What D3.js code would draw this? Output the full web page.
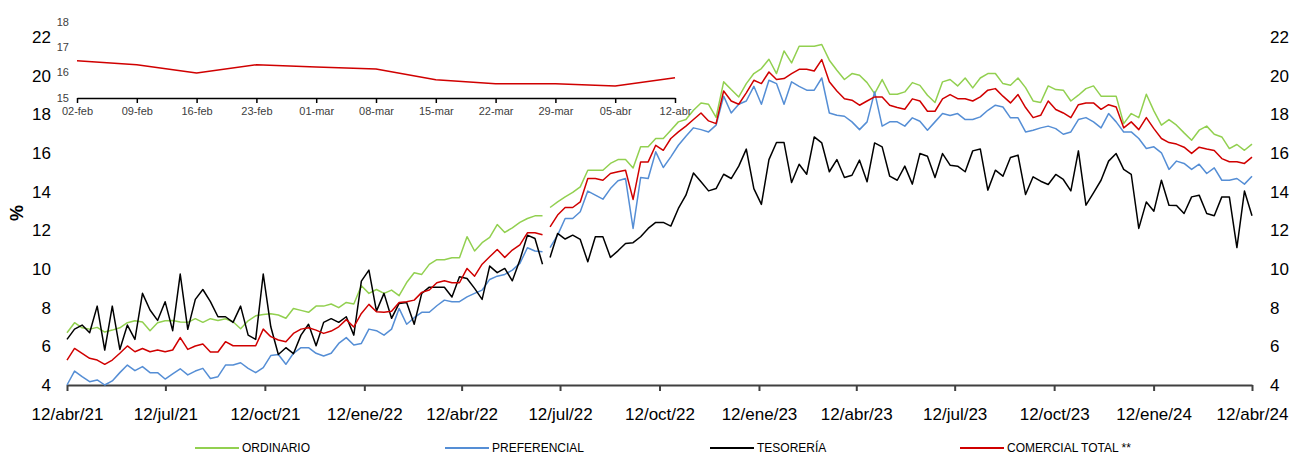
<!DOCTYPE html>
<html>

<head>
  <meta charset="utf-8">
  <title>Tasas</title>
  <style>
    body {
      margin: 0;
      background-color: #fff;
      font-family: 'Liberation Sans', Arial, sans-serif;
    }

    .axis text {
      font-size: 17px;
      fill: #000;
    }

    .inset text {
      font-size: 11px;
      fill: #404040;
    }

    .legend text {
      font-size: 12px;
      fill: #000;
    }

    .serie {
      fill: none;
      stroke-width: 1.5px;
      stroke-linejoin: round;
    }
  </style>
</head>

<body>
  <div id="chart"></div>
  <script src="https://d3js.org/d3.v7.min.js"></script>

  <script>
    // weekly values, 12/abr/21 .. 12/abr/24
    var ordinario = [6.70, 7.22, 6.96, 6.89, 6.98, 6.74, 6.84, 6.96, 7.22, 7.32, 7.26, 6.81, 7.22, 7.32, 7.34, 7.26, 7.24, 7.43, 7.24, 7.43, 7.34, 7.43, 7.27, 6.91, 7.32, 7.58, 7.65,
      7.69, 7.62, 7.45, 7.96, 7.86, 7.76, 8.08, 8.08, 8.19, 8.00, 8.27, 8.19, 9.13, 8.74, 8.94, 8.74, 8.91, 8.62, 9.30, 9.81, 9.72, 10.24, 10.48, 10.48, 10.58, 10.58,
      11.67, 10.93, 11.36, 11.63, 12.30, 11.89, 12.13, 12.41, 12.61, 12.75, 12.75, 13.18, 13.47, 13.73, 13.96, 14.25, 15.11, 15.11, 15.11, 15.46, 15.66, 15.66, 15.23, 16.32, 16.32, 16.75, 16.75,
      17.18, 17.61, 17.73, 18.21, 18.59, 18.52, 17.84, 19.68, 19.28, 18.90, 19.59, 20.11, 20.37, 20.85, 20.11, 21.28, 20.66, 21.52, 21.52, 21.52, 21.61, 20.80, 20.28, 19.80, 20.11, 20.02,
      19.64, 19.07, 19.80, 19.04, 19.04, 19.16, 19.64, 19.50, 18.99, 18.61, 19.68, 19.80, 19.47, 19.88, 19.37, 19.88, 20.11, 20.11, 19.59, 19.50, 19.88, 19.38, 18.69, 18.61, 19.47, 19.28,
      19.25, 18.69, 18.99, 19.33, 19.47, 18.94, 18.94, 18.94, 17.52, 18.04, 17.83, 19.04, 18.18, 17.44, 17.73, 17.44, 17.04, 16.66, 17.18, 17.39, 16.97, 16.83, 16.23, 16.44, 16.14, 16.46
    ];

    var preferencial = [4.00, 4.72, 4.43, 4.17, 4.26, 4.00, 4.21, 4.64, 5.03, 4.74, 4.95, 4.64, 4.64, 4.31, 4.57, 4.84, 4.52, 4.72, 4.86, 4.34, 4.43, 5.03, 5.03, 5.15, 4.86, 4.64, 4.90,
      5.52, 5.58, 5.07, 5.64, 5.93, 5.93, 5.64, 5.50, 5.64, 6.15, 6.45, 6.07, 6.15, 6.89, 6.81, 6.58, 6.89, 7.96, 7.14, 7.48, 7.76, 7.76, 8.10, 8.39, 8.31, 8.31,
      8.56, 8.74, 8.91, 9.46, 9.63, 9.72, 9.94, 10.29, 11.10, 10.93, 10.89, 11.10, 11.75, 12.61, 12.61, 12.96, 14.03, 13.82, 13.61, 14.16, 14.56, 14.68, 12.10, 14.73, 14.68, 16.06, 15.25,
      15.80, 16.40, 16.87, 17.30, 17.21, 17.09, 17.44, 18.94, 18.07, 18.52, 18.69, 19.45, 18.52, 19.76, 19.59, 18.52, 19.68, 19.45, 19.25, 19.25, 19.88, 18.07, 17.95, 17.90, 17.61, 17.21,
      17.61, 19.16, 17.39, 17.61, 17.61, 17.39, 17.82, 17.64, 17.18, 17.61, 18.04, 17.94, 18.04, 17.73, 17.73, 17.87, 18.21, 18.47, 18.38, 17.82, 17.82, 17.09, 17.18, 17.30, 17.39, 17.26,
      16.97, 17.09, 17.73, 17.83, 17.61, 17.30, 18.04, 17.61, 17.09, 17.09, 16.75, 16.23, 16.32, 16.01, 15.15, 15.58, 15.46, 15.15, 15.42, 14.94, 15.23, 14.59, 14.59, 14.68, 14.39, 14.80
    ];

    var tesoreria = [6.36, 6.89, 7.10, 6.70, 8.08, 5.81, 8.08, 5.84, 7.10, 6.36, 8.74, 7.88, 7.34, 8.31, 6.81, 9.74, 6.88, 8.43, 8.94, 8.31, 7.53, 7.53, 7.24, 8.08, 6.58, 6.36, 9.74,
      7.01, 5.58, 5.93, 5.62, 6.58, 7.14, 6.03, 7.24, 7.43, 7.24, 7.53, 6.58, 9.37, 9.94, 7.82, 8.74, 7.45, 8.22, 8.27, 7.14, 8.74, 9.06, 9.06, 9.06, 8.55, 9.60,
      9.51, 9.00, 8.43, 10.15, 9.81, 10.03, 9.39, 10.46, 11.75, 11.58, 10.25, 10.60, 11.84, 11.55, 11.75, 11.53, 10.37, 11.67, 11.67, 10.60, 10.94, 11.32, 11.36, 11.67, 12.10, 12.41, 12.41,
      12.22, 13.13, 13.82, 14.97, 14.51, 14.04, 14.16, 14.90, 14.68, 15.32, 16.20, 14.16, 13.34, 15.66, 16.54, 16.54, 14.47, 15.42, 14.90, 16.83, 16.52, 15.03, 15.66, 14.73, 14.85, 15.63,
      14.51, 16.52, 16.32, 14.80, 14.59, 15.32, 14.39, 15.97, 15.83, 14.73, 15.97, 15.37, 15.32, 15.03, 16.11, 16.21, 14.08, 15.11, 14.80, 15.77, 15.89, 13.85, 14.77, 14.54, 14.37, 14.89,
      14.63, 14.04, 16.11, 13.30, 13.94, 14.59, 15.58, 15.97, 15.15, 14.90, 12.10, 13.47, 12.99, 14.59, 13.30, 13.29, 12.87, 13.73, 13.82, 12.87, 12.75, 13.73, 13.73, 11.11, 14.03, 12.75
    ];

    var comercial = [5.29, 5.89, 5.64, 5.38, 5.29, 5.07, 5.29, 5.64, 6.02, 5.72, 5.89, 5.72, 5.81, 5.72, 5.81, 6.45, 5.84, 6.02, 6.12, 5.71, 5.71, 6.24, 6.03, 6.03, 6.03, 6.03, 6.89,
      6.50, 6.33, 6.24, 6.67, 6.89, 6.96, 6.84, 6.67, 6.79, 7.01, 7.38, 7.00, 7.70, 8.17, 7.79, 7.76, 7.82, 8.27, 8.31, 8.39, 8.79, 8.91, 9.29, 9.39, 9.29, 9.29,
      10.03, 9.63, 10.25, 10.63, 11.01, 10.60, 10.98, 11.25, 11.87, 11.87, 11.77, 12.18, 12.79, 13.18, 13.18, 13.47, 14.68, 14.68, 14.59, 14.94, 15.03, 15.11, 13.60, 15.54, 15.54, 16.40, 16.14,
      16.75, 17.09, 17.39, 17.73, 18.07, 17.66, 17.52, 19.21, 18.69, 18.52, 19.11, 19.76, 19.59, 20.19, 19.80, 19.85, 20.11, 20.33, 20.33, 20.24, 20.83, 19.68, 19.21, 18.81, 18.73, 18.47,
      18.69, 18.90, 18.90, 18.47, 18.35, 18.26, 18.80, 18.69, 18.16, 18.16, 18.80, 19.02, 18.81, 18.81, 18.69, 18.90, 19.25, 19.33, 18.94, 18.59, 19.02, 18.35, 17.83, 17.95, 18.69, 18.25,
      18.07, 17.83, 18.50, 18.59, 18.59, 18.26, 18.50, 18.38, 17.30, 17.61, 17.21, 17.83, 17.26, 16.75, 16.54, 16.46, 16.30, 15.98, 16.30, 16.21, 16.13, 15.71, 15.55, 15.55, 15.46, 15.79
    ];

    // the lines are interrupted between these two weeks
    var breakAt = 64;

    var seriesNames = ['ORDINARIO', 'PREFERENCIAL', 'TESORERÍA', 'COMERCIAL TOTAL **'];
    var seriesColors = ['#92d050', '#558ed5', '#000000', '#d00000'];

    var xTickLabels = ['12/abr/21', '12/jul/21', '12/oct/21', '12/ene/22', '12/abr/22', '12/jul/22', '12/oct/22',
      '12/ene/23', '12/abr/23', '12/jul/23', '12/oct/23', '12/ene/24', '12/abr/24'];
    var yTicks = [4, 6, 8, 10, 12, 14, 16, 18, 20, 22];

    // inset: COMERCIAL TOTAL, last weeks
    var insetLabels = ['02-feb', '09-feb', '16-feb', '23-feb', '01-mar', '08-mar', '15-mar', '22-mar', '29-mar', '05-abr', '12-abr'];
    var insetValues = [16.46, 16.30, 15.98, 16.30, 16.21, 16.13, 15.71, 15.55, 15.55, 15.46, 15.79];
    var insetTicks = [15, 16, 17, 18];

    var W = 1292,
      H = 456;

    var plot = {
      left: 67,
      right: 1252,
      top: 37,
      bottom: 385
    };

    var svg = d3.select('#chart').append('svg')
      .attr('width', W)
      .attr('height', H);

    var start = new Date(2021, 3, 12),
      end = new Date(2024, 3, 12);

    var tickDates = xTickLabels.map(function(d, i) {
      return d3.timeMonth.offset(start, 3 * i);
    });

    var xTime = d3.scaleTime()
      .domain([start, end])
      .range([plot.left, plot.right]);

    var xIdx = d3.scaleLinear()
      .domain([0, ordinario.length - 1])
      .range([plot.left, plot.right]);

    var y = d3.scaleLinear()
      .domain([4, 22])
      .range([plot.bottom, plot.top]);

    // ****************** axes ***************************

    var xAxis = svg.append('g')
      .attr('class', 'axis')
      .attr('transform', 'translate(0,' + plot.bottom + ')')
      .call(d3.axisBottom(xTime)
        .tickValues(tickDates)
        .tickFormat(function(d, i) {
          return xTickLabels[i];
        })
        .tickSize(6)
        .tickSizeOuter(0)
        .tickPadding(17));
    xAxis.select('.domain').attr('stroke', '#404040').attr('stroke-width', 2);
    xAxis.selectAll('.tick line').attr('stroke', '#404040').attr('stroke-width', 2);

    var yLeft = svg.append('g')
      .attr('class', 'axis')
      .attr('transform', 'translate(' + 51 + ',0)')
      .call(d3.axisLeft(y).tickValues(yTicks).tickSize(0).tickPadding(0));
    yLeft.select('.domain').remove();

    var yRight = svg.append('g')
      .attr('class', 'axis')
      .attr('transform', 'translate(' + 1270 + ',0)')
      .call(d3.axisRight(y).tickValues(yTicks).tickSize(0).tickPadding(0));
    yRight.select('.domain').remove();

    svg.selectAll('.axis text').attr('font-family', null).style('font-size', '17px');

    svg.append('text')
      .attr('transform', 'translate(23,213) rotate(-90)')
      .attr('text-anchor', 'middle')
      .style('font-size', '18px')
      .style('font-weight', 'bold')
      .text('%');

    // ****************** series ***************************

    var line = d3.line()
      .x(function(d) {
        return xIdx(d.i);
      })
      .y(function(d) {
        return y(d.v);
      });

    [ordinario, preferencial, tesoreria, comercial].forEach(function(vals, k) {
      var pts = vals.map(function(v, i) {
        return {
          i: i,
          v: v
        };
      });
      [pts.slice(0, breakAt), pts.slice(breakAt)].forEach(function(seg) {
        svg.append('path')
          .attr('class', 'serie')
          .attr('stroke', seriesColors[k])
          .attr('d', line(seg));
      });
    });

    // ****************** inset ***************************

    var ix = d3.scalePoint()
      .domain(insetLabels)
      .range([77, 675]);

    var iy = d3.scaleLinear()
      .domain([15, 18])
      .range([97.7, 21.8]);

    var inset = svg.append('g').attr('class', 'inset');

    var ixAxis = inset.append('g')
      .attr('transform', 'translate(0,98)')
      .call(d3.axisBottom(ix).tickSize(5).tickSizeOuter(0).tickPadding(4));
    ixAxis.select('.domain').attr('stroke', '#000').attr('stroke-width', 1.5);
    ixAxis.selectAll('.tick line').attr('stroke', '#000').attr('stroke-width', 1.5);

    var iyAxis = inset.append('g')
      .attr('transform', 'translate(69,0)')
      .call(d3.axisLeft(iy).tickValues(insetTicks).tickFormat(d3.format('d')).tickSize(0).tickPadding(0));
    iyAxis.select('.domain').remove();

    inset.selectAll('text').attr('font-family', null).style('font-size', '11px').style('fill', '#404040');

    inset.append('path')
      .attr('class', 'serie')
      .attr('stroke', seriesColors[3])
      .attr('d', d3.line()
        .x(function(d, i) {
          return ix(insetLabels[i]);
        })
        .y(function(d) {
          return iy(d);
        })(insetValues));

    // ****************** legend ***************************

    var legendX = [195, 445, 710, 960];

    var lg = svg.append('g').attr('class', 'legend')
      .selectAll('g')
      .data(seriesNames)
      .enter().append('g')
      .attr('transform', function(d, i) {
        return 'translate(' + legendX[i] + ',448)';
      });

    lg.append('line')
      .attr('x1', 0)
      .attr('x2', 44)
      .attr('stroke', function(d, i) {
        return seriesColors[i];
      })
      .attr('stroke-width', 2);

    lg.append('text')
      .attr('x', 47)
      .attr('dy', '0.36em')
      .text(function(d) {
        return d;
      });
  </script>
</body>

</html>
